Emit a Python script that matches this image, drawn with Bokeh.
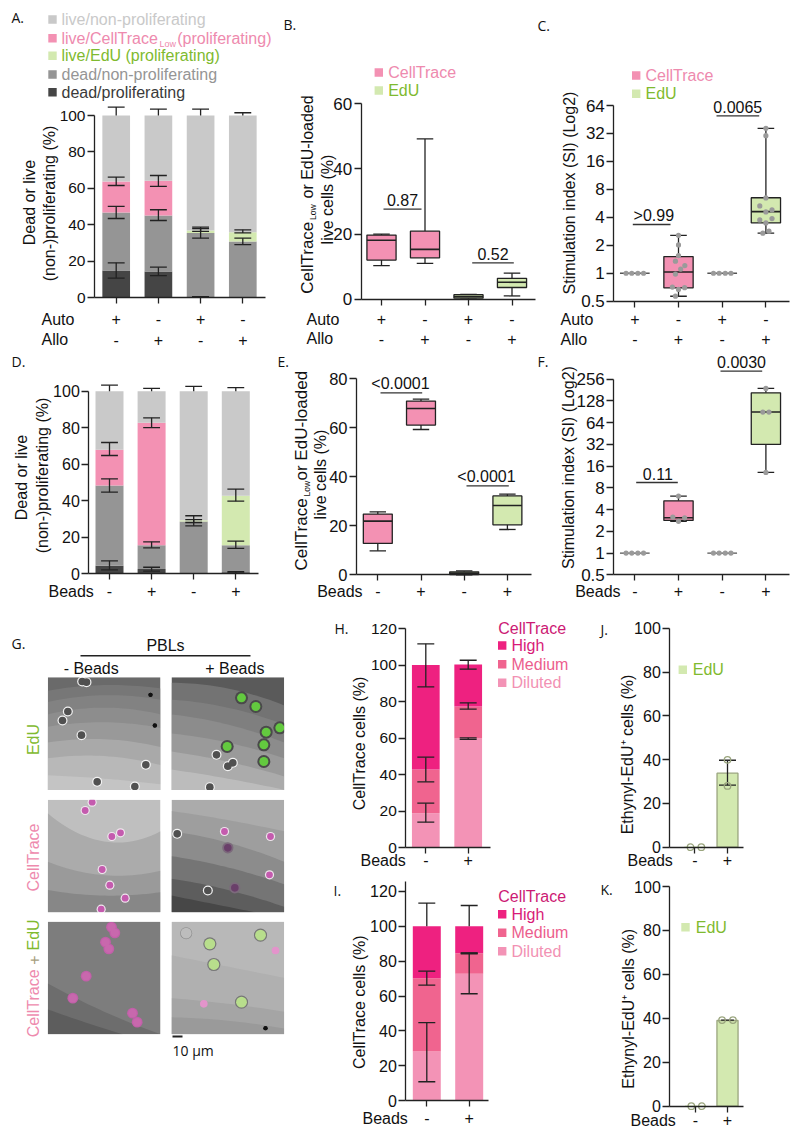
import math
import numpy as np
from bokeh.plotting import figure
from bokeh.layouts import row, column
from bokeh.models import Range1d, FixedTicker, Label, BoxAnnotation
from bokeh.embed import file_html
from bokeh.resources import INLINE

# ---------- DATA ----------
GRAY_L, PINK, GREEN, GRAY_M, GRAY_D = "#c9c9c9", "#f391b3", "#d3e9b0", "#959595", "#454545"
T_GREEN, T_PINK = "#7fba2f", "#ee8aae"
HIGH, MED, DIL = "#ee2180", "#f0648f", "#f393b6"

# A: cumulative tops of each stack
A_dead_prolif = [15, 14.4, 0.5, 0]
A_dead_non = [46.8, 45.2, 35.6, 30.9]
A_celltrace = [63.8, 64.2, 35.6, 30.9]
A_edu = [63.8, 64.2, 36.9, 36]
A_live = [100, 100, 100, 100]
A_err_x = [1, 1, 1, 1, 2, 2, 2, 2, 3, 3, 3, 3, 4, 4, 4]
A_err_lo = [10.8, 43.5, 61.6, 100, 12.2, 42.4, 61.1, 100, 0.6, 32.7, 36.4, 100, 29.2, 35.6, 100]
A_err_hi = [19.2, 50.1, 66.2, 104.6, 16.8, 48.3, 67.1, 103.5, 0.6, 38, 38.8, 103.5, 32.7, 37.3, 101.5]

# D
D_dead_prolif = [4.4, 2.6, 0.3, 0.9]
D_dead_non = [48.4, 15.7, 28.6, 15.7]
D_celltrace = [68, 82.7, 28.6, 15.7]
D_edu = [68, 82.7, 29.3, 42.7]
D_live = [100, 100, 100, 100]
D_err_x = [1, 1, 1, 1, 2, 2, 2, 2, 3, 3, 3, 4, 4, 4, 4]
D_err_lo = [2.2, 44.7, 64.8, 100, 1.5, 14.2, 80.1, 100, 26.3, 28.1, 100, 0.5, 13.9, 39.8, 100]
D_err_hi = [7.1, 52, 71.9, 103.3, 3.6, 17.5, 85.4, 101.5, 29.7, 31.8, 102.6, 1.2, 17.9, 46.4, 102]

# B / E box summaries
B_low, B_q1, B_med, B_q3, B_high = [10.3, 11, 0, 1], [12, 12.7, 0.3, 3.6], [18.1, 15.3, 0.8, 5.2], [19.7, 20.9, 1.4, 6.4], [20, 49.2, 1.5, 8]
E_low, E_q1, E_med, E_q3, E_high = [9.8, 59.3, 0, 18.5], [12.8, 61.1, 0.1, 20.4], [21.9, 67.9, 0.7, 28.3], [24.8, 70.9, 1.2, 32.2], [25.7, 71.7, 1.6, 32.9]

# C / F boxes: categories 2 and 4 have boxes; 1 and 3 are flat at 1
C_x = [2, 4]
C_low, C_q1, C_med, C_q3, C_high = [0.565, 2.7], [0.695, 3.48], [1.03, 4.61], [1.51, 6.5], [2.56, 36.3]
C_dots2 = [2.56, 2.02, 1.55, 1.35, 1.21, 1.11, 0.98, 0.71, 0.67, 0.70, 0.566]
C_off2 = [0, 0, 0, -.07, .145, .05, -.07, -.14, 0, .14, -.07]
C_dots4 = [36.4, 30.3, 6.47, 5.31, 4.8, 4.57, 3.75, 3.88, 3.48, 2.84, 2.7]
C_off4 = [0, 0, 0, -.14, .14, 0, -.14, .14, 0, .07, -.07]
F_low, F_q1, F_med, F_q3, F_high = [2.74, 13.1], [2.83, 32], [3.09, 89.8], [5.3, 166], [6.15, 191]
F_dots2 = [6.16, 3.15, 3.08, 2.75]
F_off2 = [0, -.13, .14, 0]
F_dots4 = [191, 89.8, 89.8, 13.1]
F_off4 = [0, -.07, .07, 0]
FLAT_off = [-.2, -.07, .07, .2]
FLAT_val = [1, 1, 1, 1]

# H / I
H_dil, H_med, H_high = [18.8, 59.7], [42.7, 77.3], [100, 100.3]
H_err_x = [1, 1, 1, 2, 2, 2]
H_err_lo = [13.9, 36, 88, 59.2, 75.8, 97.7]
H_err_hi = [24.3, 49.5, 111.6, 60.1, 79.3, 102.6]
I_dil, I_med, I_high = [28.2, 72.7], [70.2, 84.5], [100, 100]
I_err_x = [1, 1, 1, 2, 2, 2]
I_err_lo = [10.9, 66.2, 100, 61.3, 84.2, 100]
I_err_hi = [44.8, 74.2, 113.2, 84.5, 84.7, 111.8]

# J / K
J_bar = [0, 33.8]
J_err_lo, J_err_hi = [28.3], [39.7]
J_dots1, J_dots2 = [0, 0], [39.9, 28]
J_off1, J_off2 = [-.13, .2], [0, 0]
K_bar = [0, 39]
K_dots1, K_dots2 = [0, 0], [39.2, 39.2]
K_off1, K_off2 = [-.13, .2], [-.17, .17]

SANS, LETTER = "Liberation Sans", "Open Sans"
INK = "#222222"
LETTER_SIZE = 14


class Panel:
    """Tile of the page placed by its reference-pixel box; the frame fills the tile."""
    def __init__(s, tile, x1, dx, fx0, fx1, pa, pb, log=False, ticks=(), bounds=None, labels=None, xticks=4, tick_size=16):
        s.t, s.x1, s.dx, s.pa, s.pb, s.log = tile, x1, dx, pa, pb, log
        tx0, ty0, tx1, ty1 = tile
        s.zero_px = pa[1]
        kw = dict(y_axis_type="log") if log else {}
        s.p = p = figure(
            width=tx1 - tx0, height=ty1 - ty0,
            x_range=Range1d(s.X(tx0), s.X(tx1)), y_range=Range1d(s.Y(ty1), s.Y(ty0)),
            toolbar_location=None, output_backend="svg",
            min_border=0, **kw)
        p.grid.visible = False
        p.outline_line_color = None
        p.background_fill_color = None
        p.border_fill_color = None
        ya = p.yaxis[0]
        ya.ticker = FixedTicker(ticks=list(ticks))
        ya.major_label_overrides = {t: (labels[i] if labels else str(t)) for i, t in enumerate(ticks)}
        ya.bounds = bounds
        ya.fixed_location = s.X(fx0)
        xa = p.xaxis[0]
        xa.fixed_location = pa[0]
        xa.bounds = (s.X(fx0), s.X(fx1))
        for a in (ya, xa):
            a.axis_line_color = INK
            a.axis_line_width = 1.3
            a.major_tick_line_color = INK
            a.major_tick_line_width = 1.3
            a.major_tick_in = 0
            a.minor_tick_line_color = None
            a.major_label_text_font = SANS
            a.major_label_text_color = "#111111"
        ya.major_tick_out = 7
        ya.major_label_text_font_size = f"{tick_size}px"
        ya.major_label_standoff = 2
        xa.major_tick_out = 6
        xa.major_label_text_font_size = "16px"
        xa.ticker = FixedTicker(ticks=list(range(1, xticks + 1)))

    def X(s, px):
        return 1 + (px - s.x1) / s.dx

    def Y(s, py):
        (va, a), (vb, b) = s.pa, s.pb
        f = (py - a) / (b - a)
        if s.log:
            return 2 ** (math.log2(va) + f * (math.log2(vb) - math.log2(va)))
        return va + f * (vb - va)

    def txt(s, px, py, text, size=16, color="#111111", align="center", base="middle", angle=0, font=SANS):
        s.p.add_layout(Label(x=s.X(px), y=s.Y(py), text=text, text_font_size=f"{size}px", text_color=color,
                             text_align=align, text_baseline=base, angle=angle, text_font=font))

    def square(s, px, py, color, half=4.2):
        s.p.add_layout(BoxAnnotation(left=s.X(px - half), right=s.X(px + half), top=s.Y(py - half),
                                     bottom=s.Y(py + half), fill_color=color, fill_alpha=1, line_color=None))

    def xrows(s, rows, ys):
        xa = s.p.xaxis[0]
        xa.major_label_overrides = {i + 1: v for i, v in enumerate(rows[0])}
        xa.major_label_standoff = int(round(ys[0] - s.zero_px - 6 - 6.5))
        for r, y in zip(rows[1:], ys[1:]):
            for i, v in enumerate(r):
                s.txt(s.x1 + i * s.dx, y, v)

    def stack(s, tops, colors, width):
        n = len(tops[0])
        xs = list(range(1, n + 1))
        prev = [s.pa[0]] * n
        for top, c in zip(tops, colors):
            s.p.vbar(x=xs, top=top, bottom=prev, width=width, fill_color=c, line_color=None)
            prev = top

    def errs(s, xs, lo, hi, cap=0.2, skip=100):
        s.p.segment(xs, lo, xs, hi, line_color=INK, line_width=1.3)
        x0 = [x - cap for x in xs]
        x1 = [x + cap for x in xs]
        s.p.segment(x0, hi, x1, hi, line_color=INK, line_width=1.3)
        keep = [i for i, l in enumerate(lo) if l != skip]
        s.p.segment([x0[i] for i in keep], [lo[i] for i in keep], [x1[i] for i in keep], [lo[i] for i in keep],
                    line_color=INK, line_width=1.3)

    def boxes(s, xs, low, q1, med, q3, high, colors, width=0.67, cap=0.19):
        xl = [x - cap for x in xs]
        xr = [x + cap for x in xs]
        xbl = [x - width / 2 for x in xs]
        xbr = [x + width / 2 for x in xs]
        s.p.segment(xs, low, xs, q1, line_color=INK, line_width=1.3)
        s.p.segment(xs, q3, xs, high, line_color=INK, line_width=1.3)
        s.p.segment(xl, low, xr, low, line_color=INK, line_width=1.3)
        s.p.segment(xl, high, xr, high, line_color=INK, line_width=1.3)
        s.p.vbar(x=xs, top=q3, bottom=q1, width=width, fill_color=colors, line_color=INK, line_width=1.3)
        s.p.segment(xbl, med, xbr, med, line_color=INK, line_width=1.6)

    def sig(s, px0, px1, py, text, tx=None):
        v = s.Y(py)
        s.p.segment([s.X(px0)], [v], [s.X(px1)], [v], line_color="#333333", line_width=1.3)
        s.txt((px0 + px1) / 2 if tx is None else tx, py - 9, text, size=16)

    def dots(s, x, off, vals, color="#9a9a9a", size=5.2):
        s.p.scatter([x + o for o in off], vals, marker="circle", size=size, fill_color=color, line_color=None)

    def open_dots(s, x, off, vals):
        s.p.scatter([x + o for o in off], vals, marker="circle", size=6.5, fill_color=None,
                    line_color="#9aa57e", line_width=1.3)

    def ylab(s, px, py, text, size=16, color="#111111"):
        s.txt(px, py, text, size=size, color=color, angle=math.pi / 2)

    def ylab_sub(s, mid_x, y0, y1, y2, tail_size=16, tail="or EdU-loaded"):
        s.txt(mid_x, y0, "CellTrace", size=17, align="left", angle=math.pi / 2)
        s.txt(mid_x + 6, y1, "Low", size=8.5, align="left", angle=math.pi / 2)
        s.txt(mid_x, y2, tail, size=tail_size, align="left", angle=math.pi / 2)


def legend(pn, x_sq, x_txt, items):
    for (y, label, sq, col) in items:
        pn.square(x_sq, y, sq)
        pn.txt(x_txt, y, label, color=col, align="left")


ROW1 = [["+", "-", "+", "-"], ["-", "+", "-", "+"]]
BEADS = [["-", "+", "-", "+"]]
BEADS2 = [["-", "+"]]
LIN100 = [0, 20, 40, 60, 80, 100]
LOGC = [0.5, 1, 2, 4, 8, 16, 32, 64]
LOGF = [0.5, 1, 2, 4, 8, 16, 32, 64, 128, 256]
BOXC = [PINK, PINK, GREEN, GREEN]

# ---- A ----
a = Panel((0, 0, 278, 350), 115.7, 42.2, 94, 265, (0, 297.3), (100, 115), ticks=LIN100, bounds=(0, 100), tick_size=15.5)
a.stack([A_dead_prolif, A_dead_non, A_celltrace, A_edu, A_live], [GRAY_D, GRAY_M, PINK, GREEN, GRAY_L], 0.656)
a.errs(A_err_x, A_err_lo, A_err_hi)
a.xrows(ROW1, [318.7, 339])
a.txt(41, 318.7, "Auto", align="left")
a.txt(41, 339, "Allo", align="left")
a.ylab(29, 202, "Dead or live")
a.ylab(49, 203, "(non-)proliferating (%)")
a.txt(11, 17, "A.", size=LETTER_SIZE, align="left", font=LETTER)
legend(a, 52, 61, [(19, "live/non-proliferating", GRAY_L, GRAY_L),
                   (55.3, "live/EdU (proliferating)", GREEN, T_GREEN),
                   (74, "dead/non-proliferating", GRAY_M, GRAY_M),
                   (91.7, "dead/proliferating", GRAY_D, "#3a3a3a")])
a.square(52, 37.7, PINK)
a.txt(61, 37.7, "live/CellTrace", color=T_PINK, align="left")
a.txt(159, 43, "Low", size=9, color=T_PINK, align="left")
a.txt(176.7, 37.7, "(proliferating)", color=T_PINK, align="left")

# ---- B ----
b = Panel((278, 0, 536, 350), 381, 43.5, 360.7, 535, (0, 298.7), (60, 103.3), ticks=[0, 20, 40, 60], bounds=(0, 60), tick_size=17)
b.boxes([1, 2, 3, 4], B_low, B_q1, B_med, B_q3, B_high, BOXC)
b.sig(383, 421, 208.7, "0.87")
b.sig(471.7, 513.3, 262.3, "0.52")
b.xrows(ROW1, [318.7, 338])
b.txt(306, 318.7, "Auto", align="left")
b.txt(306, 338, "Allo", align="left")
b.ylab_sub(306.7, 293.3, 219.5, 198)
b.ylab(326.7, 199, "live cells (%)")
b.txt(283, 24, "B.", size=LETTER_SIZE, align="left", font=LETTER)
legend(b, 378.3, 387.7, [(72, "CellTrace", PINK, T_PINK), (90, "EdU", GREEN, T_GREEN)])

# ---- C ----
c = Panel((536, 0, 800, 350), 634.3, 43.7, 613.3, 789.3, (0.5, 300.7), (64, 105), log=True, ticks=LOGC, bounds=(0.5, 64), tick_size=17)
c.p.segment([1 - .34, 3 - .34], [1, 1], [1 + .34, 3 + .34], [1, 1], line_color="#555555", line_width=1.3)
c.boxes(C_x, C_low, C_q1, C_med, C_q3, C_high, [PINK, GREEN])
c.dots(1, FLAT_off, FLAT_val)
c.dots(3, FLAT_off, FLAT_val)
c.dots(2, C_off2, C_dots2)
c.dots(4, C_off4, C_dots4)
c.sig(632.3, 670, 224, ">0.99", tx=653.3)
c.sig(716, 758.7, 115.3, "0.0065", tx=737.3)
c.xrows(ROW1, [318.7, 338.5])
c.txt(560, 318.7, "Auto", align="left")
c.txt(560, 338.5, "Allo", align="left")
c.ylab(569, 192.5, "Stimulation index (SI) (Log2)")
c.txt(537, 25, "C.", size=LETTER_SIZE, align="left", font=LETTER)
legend(c, 635.7, 645, [(75, "CellTrace", PINK, T_PINK), (93.3, "EdU", GREEN, T_GREEN)])

# ---- D ----
d = Panel((0, 350, 272, 612), 109, 42.1, 88.3, 258, (0, 573.3), (100, 390.7), ticks=LIN100, bounds=(0, 100))
d.stack([D_dead_prolif, D_dead_non, D_celltrace, D_edu, D_live], [GRAY_D, GRAY_M, PINK, GREEN, GRAY_L], 0.665)
d.errs(D_err_x, D_err_lo, D_err_hi)
d.xrows(BEADS, [590.7])
d.txt(48, 590.7, "Beads", align="left")
d.ylab(21, 477, "Dead or live")
d.ylab(41.7, 475, "(non-)proliferating (%)")
d.txt(11, 360.7, "D.", size=LETTER_SIZE, align="left", font=LETTER)

# ---- E ----
e = Panel((272, 350, 534, 612), 377.3, 43.2, 356, 530.7, (0, 574.3), (80, 378.3), ticks=[0, 20, 40, 60, 80], bounds=(0, 80), tick_size=16.5)
e.boxes([1, 2, 3, 4], E_low, E_q1, E_med, E_q3, E_high, BOXC)
e.sig(380, 421.7, 392.3, "<0.0001", tx=400)
e.sig(466, 508.3, 485.3, "<0.0001", tx=486)
e.xrows(BEADS, [590.7])
e.txt(316.7, 590.7, "Beads", align="left")
e.ylab_sub(300.7, 570, 496, 480, tail_size=17)
e.ylab(320, 474, "live cells (%)")
e.txt(277, 360.7, "E.", size=LETTER_SIZE, align="left", font=LETTER)

# ---- F ----
f = Panel((534, 350, 800, 612), 634.3, 43.7, 613.3, 789.3, (0.5, 574.3), (256, 378.7), log=True, ticks=LOGF, bounds=(0.5, 256), tick_size=17)
f.p.segment([1 - .34, 3 - .34], [1, 1], [1 + .34, 3 + .34], [1, 1], line_color="#555555", line_width=1.3)
f.boxes(C_x, F_low, F_q1, F_med, F_q3, F_high, [PINK, GREEN])
f.dots(1, FLAT_off, FLAT_val)
f.dots(3, FLAT_off, FLAT_val)
f.dots(2, F_off2, F_dots2)
f.dots(4, F_off4, F_dots4)
f.sig(635.7, 677.3, 482, "0.11", tx=657.3)
f.sig(720, 761.7, 370.7, "0.0030", tx=741)
f.xrows(BEADS, [590.7])
f.txt(574.7, 590.7, "Beads", align="left")
f.ylab(568, 467, "Stimulation index (SI) (Log2)")
f.txt(537, 360.7, "F.", size=LETTER_SIZE, align="left", font=LETTER)

# ---- H ----
h = Panel((328, 612, 596, 875), 425.3, 42.4, 405.3, 490, (0, 847), (120, 628), ticks=LIN100 + [120], bounds=(0, 120), xticks=2, tick_size=15.5)
h.stack([H_dil, H_med, H_high], [DIL, MED, HIGH], 0.654)
h.errs(H_err_x, H_err_lo, H_err_hi)
h.xrows(BEADS2, [860])
h.txt(360, 860, "Beads", align="left")
h.ylab(359.3, 743, "CellTrace cells (%)")
h.txt(334, 628, "H.", size=LETTER_SIZE, align="left", font=LETTER)
h.txt(497.7, 628.3, "CellTrace", color="#cc1a74", align="left")
legend(h, 501.7, 511, [(645, "High", HIGH, "#d81b78"), (663.7, "Medium", MED, "#ec5d8d"), (682.3, "Diluted", DIL, "#f291b3")])

# ---- I ----
i_ = Panel((328, 875, 596, 1137), 426.3, 42.4, 405.3, 488.3, (0, 1100.3), (120, 890.7), ticks=LIN100 + [120], bounds=(0, 125.7), xticks=2)
i_.stack([I_dil, I_med, I_high], [DIL, MED, HIGH], 0.66)
i_.errs(I_err_x, I_err_lo, I_err_hi)
i_.xrows(BEADS2, [1117.7])
i_.txt(362, 1117.7, "Beads", align="left")
i_.ylab(359.3, 1001.7, "CellTrace cells (%)")
i_.txt(333, 890, "I.", size=LETTER_SIZE, align="left", font=LETTER)
i_.txt(497.7, 896, "CellTrace", color="#cc1a74", align="left")
legend(i_, 501.7, 511, [(913.7, "High", HIGH, "#d81b78"), (932.3, "Medium", MED, "#ec5d8d"), (950.7, "Diluted", DIL, "#f291b3")])

# ---- J ----
j = Panel((596, 612, 800, 875), 694.3, 32.7, 669.3, 743.3, (0, 846.7), (100, 627.7), ticks=LIN100, bounds=(0, 100), xticks=2)
j.p.vbar(x=[1, 2], top=J_bar, bottom=0, width=0.64, fill_color=GREEN, line_color=["#d3e9b0", "#9aa57e"], line_width=1.3)
j.errs([2], J_err_lo, J_err_hi, cap=0.26)
j.open_dots(1, J_off1, J_dots1)
j.open_dots(2, J_off2, J_dots2)
j.xrows(BEADS2, [860])
j.txt(627, 860, "Beads", align="left")
j.ylab(626.7, 754, "Ethynyl-EdU\u207a cells (%)")
j.txt(600, 629, "J.", size=LETTER_SIZE, align="left", font=LETTER)
legend(j, 682.3, 692.3, [(669.3, "EdU", GREEN, T_GREEN)])

# ---- K ----
k = Panel((596, 875, 800, 1137), 695, 32, 669.3, 743.3, (0, 1105.7), (100, 886), ticks=LIN100, bounds=(0, 100), xticks=2)
k.p.vbar(x=[1, 2], top=K_bar, bottom=0, width=0.66, fill_color=GREEN, line_color=["#d3e9b0", "#9aa57e"], line_width=1.3)
k.p.segment([1.8], [39.2], [2.2], [39.2], line_color=INK, line_width=1.3)
k.open_dots(1, K_off1, K_dots1)
k.open_dots(2, K_off2, K_dots2)
k.xrows(BEADS2, [1120])
k.txt(630, 1120, "Beads", align="left")
k.ylab(628.3, 1008.3, "Ethynyl-EdU\u207a cells (%)")
k.txt(600, 889, "K.", size=LETTER_SIZE, align="left", font=LETTER)
legend(k, 685, 695.3, [(926.7, "EdU", GREEN, T_GREEN)])

# ---- G: microscopy panels (hand-estimated picture, in page pixels) ----
PANEL_X = [47.3, 171]
PANEL_Y = [676.7, 799.3, 921]
PANEL_S = 112.7
BANDS = {
    (0, 0): ("#6a6a6a", [(.12, .07, .10, "#777777"), (.22, .16, .20, "#828282"), (.33, .27, .33, "#8d8d8d"), (.44, .40, .45, "#999999"), (.58, .55, .62, "#a9a9a9"), (.72, .70, .78, "#b8b8b8"), (.87, .90, .95, "#c4c4c4")]),
    (0, 1): ("#5a5a5a", [(.05, .10, .25, "#737373"), (.20, .27, .42, "#7f7f7f"), (.33, .42, .58, "#8c8c8c"), (.50, .58, .72, "#9a9a9a"), (.66, .75, .88, "#ababab"), (.82, .90, 1.0, "#bcbcbc")]),
    (1, 0): ("#bfbfbf", [(.12, .37, .28, "#ababab"), (.55, .67, .63, "#9a9a9a"), (.80, .85, .82, "#878787")]),
    (1, 1): ("#ababab", [(.10, .18, .28, "#9e9e9e"), (.28, .38, .55, "#8c8c8c"), (.50, .60, .75, "#757575"), (.70, .80, .95, "#5d5d5d"), (.85, .95, 1.05, "#474747")]),
    (2, 0): ("#7d7d7d", [(.55, .80, 1.0, "#6d6d6d"), (.78, .95, 1.1, "#5d5d5d")]),
    (2, 1): ("#b8b8b8", [(.30, .40, .50, "#b0b0b0"), (.68, .73, .80, "#a5a5a5"), (.85, .88, .95, "#9a9a9a")]),
}
# cells as (x, y, kind) read in the 3x crop of the panel block
CELLS = [
    (245, 183, "g"), (258, 185, "g"), (450, 223, "x"), (202, 273, "g"), (186, 300, "g"), (243, 344, "g"), (436, 433, "g"),
    (290, 484, "g"), (403, 498, "g"), (463, 315, "x"),
    (723, 232, "e"), (766, 258, "e"), (797, 335, "e"), (838, 322, "e"), (680, 378, "e"), (790, 373, "e"), (790, 423, "e"),
    (648, 403, "g"), (682, 437, "g"), (697, 427, "g"), (628, 500, "g"),
    (275, 545, "m"), (254, 570, "m"), (334, 648, "m"), (360, 637, "m"), (305, 747, "m"), (328, 794, "m"), (374, 833, "m"), (302, 866, "m"),
    (530, 640, "g"), (622, 810, "g"), (672, 633, "m"), (810, 648, "m"), (807, 763, "m"), (682, 682, "d"), (703, 802, "d"),
    (333, 920, "o"), (343, 937, "o"), (315, 965, "o"), (325, 985, "o"), (257, 1067, "o"), (217, 1133, "o"), (396, 1178, "o"), (410, 1205, "o"),
    (628, 970, "p"), (640, 1032, "p"), (780, 944, "p"), (723, 1145, "p"), (825, 990, "k"), (610, 1150, "k"), (557, 938, "h"), (795, 1223, "x"),
]
KINDS = {
    "g": ("#f2f2f2", 5.0, "#505050", 3.8),
    "e": ("#4a4a4a", 6.5, "#63c93f", 4.5),
    "m": ("#f0e6ee", 4.6, "#c45bae", 3.4),
    "d": ("#7c6a7c", 5.6, "#6a3f6a", 3.8),
    "o": ("#c25fa9", 5.4, "#c868ad", 4.2),
    "p": ("#777777", 6.6, "#b8de8c", 5.4),
    "k": ("#e394cb", 3.8, "#e394cb", 3.2),
    "h": ("#8c8c8c", 6.0, "#bdbdbd", 5.4),
    "x": ("#111111", 2.2, "#111111", 2.0),
}

g = figure(width=328, height=525, x_range=Range1d(0, 328), y_range=Range1d(1137, 612), x_axis_type=None, y_axis_type=None,
           toolbar_location=None, output_backend="svg", min_border=0)
g.grid.visible = False
g.outline_line_color = None
g.background_fill_color = None
g.border_fill_color = None

for (r, cc), (top_col, bands) in BANDS.items():
    x0, y0 = PANEL_X[cc], PANEL_Y[r]
    xs = np.linspace(0, 1, 25)
    g.quad(left=x0, right=x0 + PANEL_S, top=y0, bottom=y0 + PANEL_S, fill_color=top_col, line_color=None)
    for yl, ym, yr, col in bands:
        curve = np.polyval(np.polyfit([0, .5, 1], [yl, ym, yr], 2), xs)
        curve = np.clip(curve, 0, 1)
        g.patch(np.r_[x0 + xs * PANEL_S, x0 + PANEL_S, x0], np.r_[y0 + curve * PANEL_S, y0 + PANEL_S, y0 + PANEL_S],
                fill_color=col, line_color=None)

for kind, (oc, orad, ic, irad) in KINDS.items():
    cx = [c_[0] / 3 for c_ in CELLS if c_[2] == kind]
    cy = [620 + c_[1] / 3 for c_ in CELLS if c_[2] == kind]
    g.circle(cx, cy, radius=orad, fill_color=oc, line_color=None)
    g.circle(cx, cy, radius=irad, fill_color=ic, line_color=None)

# white gutters trim cells at the panel edges
for cc in range(2):
    for r in range(3):
        x0, y0 = PANEL_X[cc], PANEL_Y[r]
        g.quad(left=[x0 - 9, x0 + PANEL_S, x0 - 9, x0 - 9], right=[x0, x0 + PANEL_S + 9, x0 + PANEL_S + 9, x0 + PANEL_S + 9],
               top=[y0 - 9, y0 - 9, y0 - 9, y0 + PANEL_S], bottom=[y0 + PANEL_S + 9, y0 + PANEL_S + 9, y0, y0 + PANEL_S + 9],
               fill_color="white", line_color=None)

g.segment([80], [655.3], [250], [655.3], line_color="#222222", line_width=1.5)
g.segment([172], [1036], [182], [1036], line_color="#222222", line_width=1.8)


def gtxt(x, y, text, size=16, color="#111111", align="center", angle=0, font=SANS):
    g.add_layout(Label(x=x, y=y, text=text, text_font_size=f"{size}px", text_color=color, text_align=align,
                       text_baseline="middle", angle=angle, text_font=font))


gtxt(11, 643, "G.", size=LETTER_SIZE, align="left", font=LETTER)
gtxt(165, 645, "PBLs")
gtxt(90.7, 667.7, "- Beads")
gtxt(234.3, 667.7, "+ Beads")
gtxt(33, 739, "EdU", color=T_GREEN, angle=math.pi / 2)
gtxt(33, 857, "CellTrace", color=T_PINK, angle=math.pi / 2)
gtxt(33, 1036.7, "CellTrace", color=T_PINK, align="left", angle=math.pi / 2)
gtxt(33, 959.5, "+", color="#a89f80", angle=math.pi / 2)
gtxt(33, 950, "EdU", color=T_GREEN, align="left", angle=math.pi / 2)
gtxt(172, 1050, "10 \u00b5m", size=14, align="left", font=LETTER)

layout = column(
    row(a.p, b.p, c.p, spacing=0),
    row(d.p, e.p, f.p, spacing=0),
    row(g, column(h.p, i_.p, spacing=0), column(j.p, k.p, spacing=0), spacing=0),
    spacing=0,
)
open("out.html", "w").write(file_html(layout, INLINE))
